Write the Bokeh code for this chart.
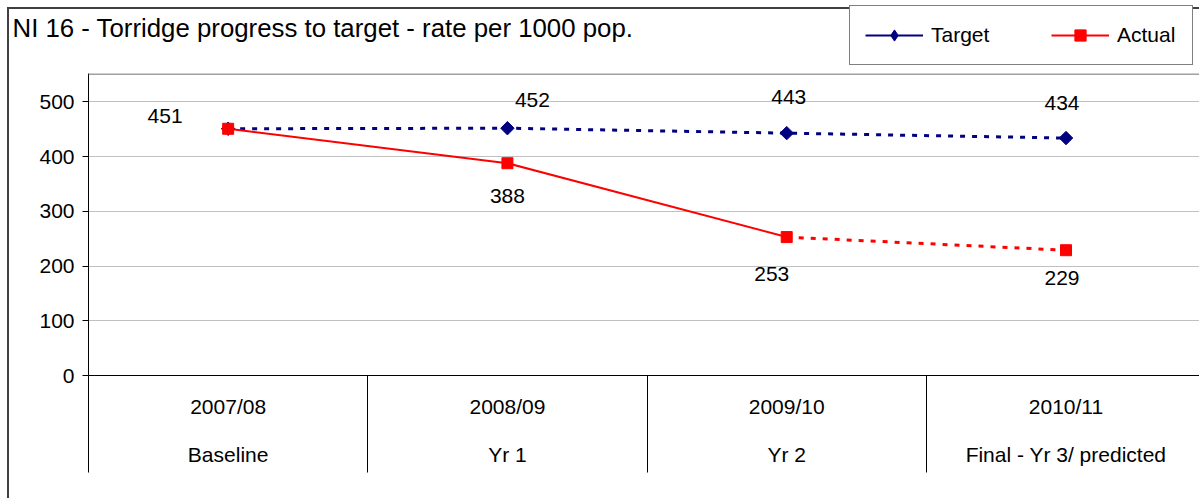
import numpy as np
from bokeh.plotting import figure
from bokeh.layouts import column
from bokeh.models import (Range1d, FixedTicker, LinearAxis, Grid, Legend,
                          LegendItem, Span, Label)
from bokeh.core.properties import value
from bokeh.embed import file_html
from bokeh.resources import INLINE

# ---------------- data ----------------
years = ["2007/08", "2008/09", "2009/10", "2010/11"]
stages = ["Baseline", "Yr 1", "Yr 2", "Final - Yr 3/ predicted"]
target = [451, 452, 443, 434]
actual = [451, 388, 253, 229]
n_measured = 3          # last actual value is a prediction (dashed)
y_ticks = [0, 100, 200, 300, 400, 500]
title_text = "NI 16 - Torridge progress to target - rate per 1000 pop."

# ---------------- label placement (screen px) ----------------
t_dx = [-63, 25, 2, -4]
t_dy = [-13, -28, -36, -35]
a_dx = [0, -15, -4]
a_dy = [33, 37, 28]

FONT = "Liberation Sans"
FS = "21px"
NAVY = "#000080"
RED = "#FF0000"
EDGE = "#404040"
DASH = "5 7"

n = len(years)
xs = [i + 0.5 for i in range(n)]

# ================= header strip: title + legend =================
h = figure(width=1199, height=73, output_backend="svg", toolbar_location=None,
           x_range=Range1d(0, 1), y_range=Range1d(0, 1),
           x_axis_type=None, y_axis_type=None,
           min_border_left=0, min_border_right=0, min_border_top=0,
           min_border_bottom=0)
h.frame_align = False
h.outline_line_color = None
h.background_fill_alpha = 0
h.border_fill_alpha = 0
h.styles = {
    "background-color": "white",
    "background-image": f"linear-gradient({EDGE}, {EDGE}), linear-gradient({EDGE}, {EDGE})",
    "background-size": "2px 100%, 100% 2px",
    "background-position": "7px 7px, 7px 7px",
    "background-repeat": "no-repeat",
}
h.add_layout(Label(x=12, y=46, x_units="screen", y_units="screen", text=title_text,
                   text_font=FONT, text_font_size="25.8px",
                   text_baseline="alphabetic", text_align="left", text_color="black"))

# legend proxies: style carriers only (NaN -> nothing drawn in the strip)
lt_line = h.line([np.nan], [np.nan], line_color=NAVY, line_width=2)
lt_mark = h.scatter([np.nan], [np.nan], marker="diamond", size=12,
                    fill_color=NAVY, line_color=NAVY)
la_line = h.line([np.nan], [np.nan], line_color=RED, line_width=2)
la_mark = h.scatter([np.nan], [np.nan], marker="square", size=11,
                    fill_color=RED, line_color=RED)

legend = Legend(items=[LegendItem(label="Target", renderers=[lt_line, lt_mark]),
                       LegendItem(label="Actual", renderers=[la_line, la_mark])],
                location=(849, 8), orientation="horizontal", glyph_width=58,
                glyph_height=28, label_standoff=8, label_width=60, spacing=60,
                padding=15, margin=0, border_line_color="black",
                border_line_width=1, label_text_font=FONT,
                label_text_font_size=FS, label_text_color="black",
                background_fill_color="white", background_fill_alpha=1)
h.add_layout(legend)

# ================= main chart =================
p = figure(width=1199, height=425, output_backend="svg", toolbar_location=None,
           x_range=Range1d(0, 3.978), y_range=Range1d(0, 552),
           x_axis_type=None, y_axis_type=None,
           min_border_left=88, min_border_right=0, min_border_top=0,
           min_border_bottom=123)
p.frame_align = False
p.outline_line_color = None
p.background_fill_color = "white"
p.border_fill_alpha = 0
p.styles = {
    "background-color": "white",
    "background-image": f"linear-gradient({EDGE}, {EDGE})",
    "background-size": "2px 100%",
    "background-position": "7px 0px",
    "background-repeat": "no-repeat",
}

# y axis + grid
yticker = FixedTicker(ticks=y_ticks)
yaxis = LinearAxis(ticker=yticker, axis_line_color="black", major_tick_out=6,
                   major_tick_in=0, minor_tick_line_color=None,
                   major_label_text_font=FONT, major_label_text_font_size=FS,
                   major_label_text_color="black", major_label_standoff=8)
p.add_layout(yaxis, "left")
p.add_layout(Grid(dimension=1, ticker=yticker, grid_line_color="#c0c0c0"))
p.add_layout(Span(location=551, dimension="width", line_color="#a0a0a0", line_width=2))

# x axes (two rows)
xa = LinearAxis(ticker=FixedTicker(ticks=xs, minor_ticks=list(range(n + 1))),
                major_label_overrides={x: s for x, s in zip(xs, years)},
                major_tick_line_color=None, major_tick_out=0, major_tick_in=0,
                minor_tick_out=97, minor_tick_in=0, minor_tick_line_color="black",
                axis_line_color="black",
                major_label_text_font=FONT, major_label_text_font_size=FS,
                major_label_text_color="black", major_label_standoff=-78)
xb = LinearAxis(ticker=FixedTicker(ticks=xs),
                major_label_overrides={x: s for x, s in zip(xs, stages)},
                major_tick_line_color=None, major_tick_out=0, major_tick_in=0,
                minor_tick_line_color=None, axis_line_color=None,
                major_label_text_font=FONT, major_label_text_font_size=FS,
                major_label_text_color="black", major_label_standoff=22)
p.add_layout(xa, "below")
p.add_layout(xb, "below")

# target series
p.line(xs, target, line_color=NAVY, line_width=3, line_dash=DASH)
p.scatter(xs, target, marker="square", angle=np.pi / 4, size=9.5,
          fill_color=NAVY, line_color=NAVY)

# actual series
p.line(xs[:n_measured], actual[:n_measured], line_color=RED, line_width=2)
p.line(xs[n_measured - 1:], actual[n_measured - 1:], line_color=RED,
       line_width=3, line_dash=DASH)
p.scatter(xs, actual, marker="square", size=11, fill_color=RED, line_color=RED)

# data labels
p.text(x=xs, y=target, text=[str(v) for v in target], x_offset=t_dx, y_offset=t_dy,
       text_font=value(FONT), text_font_size=FS, text_align="center",
       text_baseline="middle", text_color="black")
p.text(x=xs[1:], y=actual[1:], text=[str(v) for v in actual[1:]], x_offset=a_dx,
       y_offset=a_dy, text_font=value(FONT), text_font_size=FS,
       text_align="center", text_baseline="middle", text_color="black")

layout = column(h, p, spacing=0)
open("out.html", "w").write(file_html(layout, INLINE))
